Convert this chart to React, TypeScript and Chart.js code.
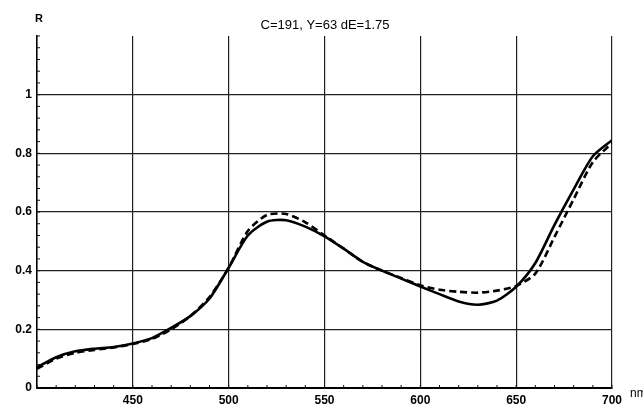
import React, { useEffect, useRef } from "react";
import { Chart, registerables } from "chart.js";

Chart.register(...registerables);

const wavelengths = [400, 410, 420, 430, 440, 450, 460, 470, 480, 490, 500, 510, 520, 530, 540, 550, 560, 570, 580, 590, 600, 610, 620, 630, 640, 650, 660, 670, 680, 690, 700];
const sampleR = [0.07, 0.105, 0.125, 0.134, 0.14, 0.152, 0.17, 0.205, 0.245, 0.305, 0.41, 0.52, 0.567, 0.572, 0.55, 0.517, 0.475, 0.43, 0.4, 0.373, 0.346, 0.32, 0.295, 0.284, 0.298, 0.345, 0.426, 0.556, 0.677, 0.79, 0.845];
const referenceR = [0.065, 0.1, 0.12, 0.13, 0.138, 0.15, 0.167, 0.2, 0.245, 0.31, 0.41, 0.535, 0.59, 0.593, 0.565, 0.52, 0.475, 0.43, 0.4, 0.375, 0.35, 0.335, 0.328, 0.325, 0.332, 0.348, 0.39, 0.515, 0.644, 0.77, 0.835];
const yTicks = [0, 0.2, 0.4, 0.6, 0.8, 1];
const xTicks = [400, 450, 500, 550, 600, 650, 700];
const titleText = "C=191, Y=63 dE=1.75";
const yAxisTitle = "R";
const xAxisTitle = "nm";

const tickFont = { family: "'Liberation Sans', Arial, sans-serif", size: 12, weight: "bold" as const };

export default function App() {
  const ref = useRef<HTMLCanvasElement | null>(null);

  useEffect(() => {
    if (!ref.current) return;
    const extras = {
      id: "extras",
      afterDraw(chart: any) {
        const ctx = chart.ctx;
        const ca = chart.chartArea;
        const xs = chart.scales.x;
        const ys = chart.scales.y;
        ctx.save();
        ctx.strokeStyle = "#111";
        ctx.lineWidth = 1;
        for (let i = 0; i <= 30; i++) {
          const y = ys.getPixelForValue(i * 0.04);
          ctx.beginPath();
          ctx.moveTo(ca.left - 1, y);
          ctx.lineTo(ca.left + 3, y);
          ctx.stroke();
        }
        for (let v = 400; v <= 700; v += 10) {
          const x = xs.getPixelForValue(v);
          ctx.beginPath();
          ctx.moveTo(x, ca.bottom + 1);
          ctx.lineTo(x, ca.bottom - 3);
          ctx.stroke();
        }
        ctx.fillStyle = "#000";
        ctx.font = "13px 'Liberation Sans', Arial, sans-serif";
        ctx.textAlign = "center";
        ctx.textBaseline = "alphabetic";
        ctx.fillText(titleText, 325, 29);
        ctx.font = "bold 11px 'Liberation Sans', Arial, sans-serif";
        ctx.textAlign = "left";
        ctx.fillText(yAxisTitle, 35, 22);
        ctx.font = "12px 'Liberation Sans', Arial, sans-serif";
        ctx.fillText(xAxisTitle, 630, 397);
        ctx.restore();
      },
    };

    const chart = new Chart(ref.current, {
      type: "line",
      data: {
        datasets: [
          {
            label: "sample",
            data: wavelengths.map((w, i) => ({ x: w, y: sampleR[i] })),
            borderColor: "#000",
            borderWidth: 2.6,
            pointRadius: 0,
            tension: 0.25,
            fill: false,
          },
          {
            label: "reference",
            data: wavelengths.map((w, i) => ({ x: w, y: referenceR[i] })),
            borderColor: "#000",
            borderWidth: 2.6,
            borderDash: [7, 4],
            pointRadius: 0,
            tension: 0.25,
            fill: false,
          },
        ],
      },
      options: {
        responsive: false,
        animation: false,
        layout: { padding: { left: 0, right: 31, top: 36, bottom: 0 } },
        plugins: { legend: { display: false }, tooltip: { enabled: false }, title: { display: false } },
        scales: {
          x: {
            type: "linear",
            min: 400,
            max: 700,
            afterBuildTicks: (scale: any) => {
              scale.ticks = xTicks.map((v) => ({ value: v }));
            },
            afterFit: (scale: any) => {
              scale.height = 17;
            },
            ticks: {
              color: "#000",
              font: tickFont,
              padding: 5,
              maxRotation: 0,
              callback: (v: any) => (v === 400 ? "" : String(v)),
            },
            grid: { color: "#222", lineWidth: 1.2, drawTicks: false },
            border: { display: true, color: "#000", width: 2 },
          },
          y: {
            type: "linear",
            min: 0,
            max: 1.2,
            afterBuildTicks: (scale: any) => {
              scale.ticks = yTicks.map((v) => ({ value: v }));
            },
            afterFit: (scale: any) => {
              scale.width = 37;
            },
            ticks: {
              color: "#000",
              font: tickFont,
              padding: 5,
              callback: (v: any) => String(Math.round(v * 10) / 10),
            },
            grid: { color: "#222", lineWidth: 1.2, drawTicks: false },
            border: { display: true, color: "#000", width: 1.5 },
          },
        },
      },
      plugins: [extras],
    });
    return () => chart.destroy();
  }, []);

  return (
    <div style={{ position: "fixed", left: 0, top: 0, width: 643, height: 405, background: "#fff" }}>
      <canvas ref={ref} width={643} height={405} />
    </div>
  );
}
